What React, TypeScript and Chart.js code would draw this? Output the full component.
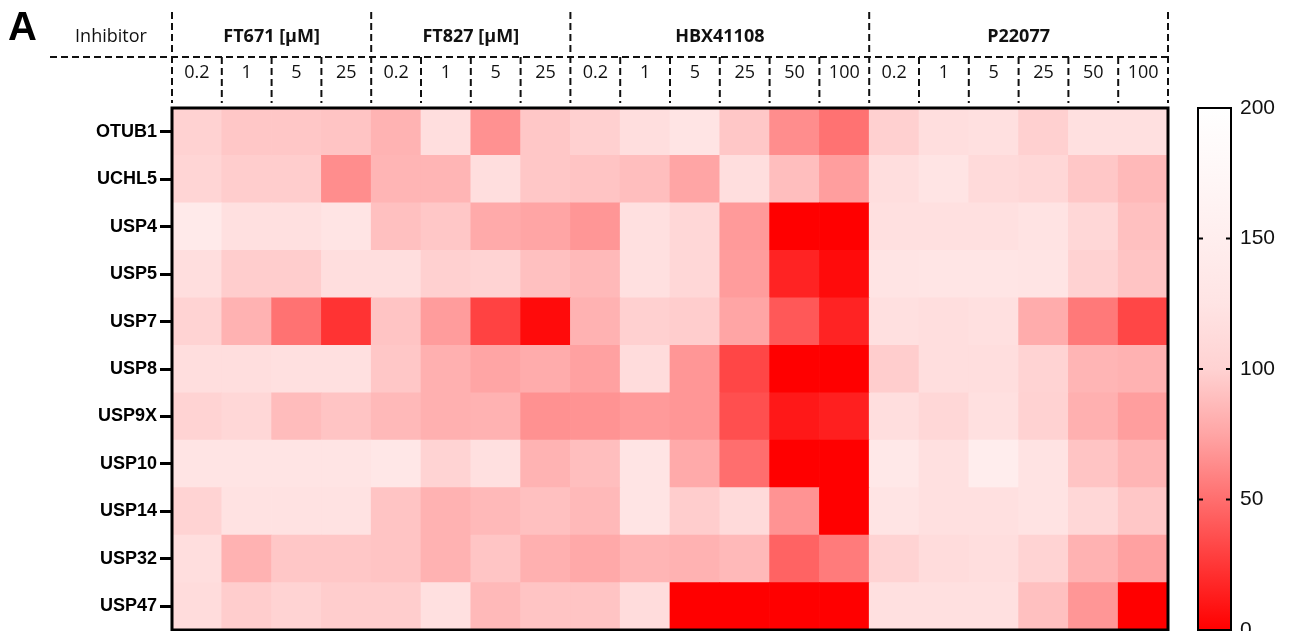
import React, { useEffect, useRef } from "react";
import { Chart, registerables } from "chart.js";

Chart.register(...registerables);

// ---------- data ----------
const inhibitors = ["FT671 [µM]", "FT827 [µM]", "HBX41108", "P22077"];
const ft671Conc = ["0.2", "1", "5", "25"];
const ft827Conc = ["0.2", "1", "5", "25"];
const hbxConc = ["0.2", "1", "5", "25", "50", "100"];
const p22077Conc = ["0.2", "1", "5", "25", "50", "100"];
const concGroups = [ft671Conc, ft827Conc, hbxConc, p22077Conc];

const rowLabels = ["OTUB1", "UCHL5", "USP4", "USP5", "USP7", "USP8", "USP9X", "USP10", "USP14", "USP32", "USP47"];

const OTUB1 = [100, 94, 94, 92, 83, 117, 66, 94, 99, 117, 125, 94, 64, 52, 99, 117, 120, 99, 120, 120];
const UCHL5 = [104, 97, 97, 64, 84, 84, 117, 94, 92, 89, 75, 117, 89, 72, 117, 125, 111, 107, 94, 86];
const USP4 = [140, 120, 120, 125, 90, 94, 78, 75, 68, 120, 107, 70, 0, 0, 120, 120, 120, 123, 107, 90];
const USP5 = [117, 97, 97, 117, 117, 99, 102, 90, 86, 120, 107, 71, 16, 5, 125, 128, 128, 125, 100, 92];
const USP7 = [102, 82, 52, 23, 92, 71, 30, 5, 82, 99, 97, 75, 40, 16, 120, 117, 120, 79, 55, 32];
const USP8 = [117, 117, 120, 120, 94, 81, 75, 79, 73, 114, 68, 32, 0, 0, 97, 117, 117, 102, 84, 82];
const USP9X = [102, 107, 88, 92, 86, 81, 82, 66, 67, 70, 68, 36, 11, 14, 117, 107, 120, 100, 81, 72];
const USP10 = [125, 125, 125, 125, 133, 102, 120, 83, 89, 125, 78, 50, 0, 0, 135, 120, 148, 123, 92, 84];
const USP14 = [102, 122, 122, 122, 92, 82, 86, 90, 86, 125, 97, 111, 67, 0, 125, 120, 120, 123, 107, 94];
const USP32 = [117, 82, 94, 94, 92, 82, 93, 81, 77, 84, 82, 86, 45, 56, 102, 114, 117, 102, 82, 73];
const USP47 = [114, 97, 102, 97, 97, 120, 86, 92, 92, 114, 0, 0, 0, 0, 120, 120, 120, 90, 68, 0];
const rowValues = [OTUB1, UCHL5, USP4, USP5, USP7, USP8, USP9X, USP10, USP14, USP32, USP47];

const colorbarTicks = [0, 50, 100, 150, 200];
const colorbarMin = 0;
const colorbarMax = 200;
// colour map: value -> green/blue channel (red stays 255)
const cmapValues = [0, 25, 50, 75, 100, 125, 150, 175, 200];
const cmapLevels = [0, 55, 110, 165, 210, 228, 238, 247, 255];

function colorFor(v: number): string {
  const val = Math.max(colorbarMin, Math.min(colorbarMax, v));
  let g = 255;
  for (let i = 0; i < cmapValues.length - 1; i++) {
    if (val >= cmapValues[i] && val <= cmapValues[i + 1]) {
      const t = (val - cmapValues[i]) / (cmapValues[i + 1] - cmapValues[i]);
      g = cmapLevels[i] + t * (cmapLevels[i + 1] - cmapLevels[i]);
      break;
    }
  }
  g = Math.round(g);
  return `rgb(255,${g},${g})`;
}

const columnLabels: string[] = [];
concGroups.forEach((g, gi) => g.forEach((c) => columnLabels.push(`${inhibitors[gi]} ${c}`)));

const SANS = "'Liberation Sans', Arial, sans-serif";
const HEAD = "'Open Sans', 'Liberation Sans', sans-serif";

const decorPlugin = {
  id: "heatDecor",
  afterDraw(chart: any) {
    const ctx = chart.ctx as CanvasRenderingContext2D;
    const ca = chart.chartArea;
    const xs = chart.scales.x;
    const cbs = chart.scales.cb;
    const nCols = columnLabels.length;
    const cw = xs.getPixelForValue(1) - xs.getPixelForValue(0);
    const edge = (i: number) => xs.getPixelForValue(i) - cw / 2;

    ctx.save();
    // heatmap frame
    ctx.strokeStyle = "#000";
    ctx.lineWidth = 3;
    ctx.strokeRect(ca.left, ca.top, ca.right - ca.left, ca.bottom - ca.top);

    // header dashed lines
    const yTop = 4;
    const yMid = 49;
    const yBot = 95;
    ctx.strokeStyle = "#111";
    ctx.lineWidth = 2;
    ctx.setLineDash([7, 4]);
    const line = (x1: number, y1: number, x2: number, y2: number) => {
      ctx.beginPath();
      ctx.moveTo(x1, y1);
      ctx.lineTo(x2, y2);
      ctx.stroke();
    };
    line(42, yMid, ca.right + 1, yMid);
    let col = 0;
    ctx.fillStyle = "#111";
    ctx.textBaseline = "middle";
    ctx.textAlign = "center";
    concGroups.forEach((g) => {
      const s = col;
      const e = col + g.length;
      line(edge(s), yTop, edge(s), yBot);
      for (let c = s + 1; c < e; c++) line(edge(c), yMid, edge(c), yBot);
      col = e;
    });
    line(edge(nCols), yTop, edge(nCols), yBot);
    ctx.setLineDash([]);

    // header texts
    col = 0;
    concGroups.forEach((g, gi) => {
      const s = col;
      const e = col + g.length;
      ctx.font = `bold 18px ${HEAD}`;
      ctx.fillText(inhibitors[gi], (edge(s) + edge(e)) / 2, 29);
      ctx.font = `18px ${HEAD}`;
      g.forEach((c, k) => {
        ctx.fillText(c, xs.getPixelForValue(s + k), 65);
      });
      col = e;
    });
    ctx.font = `18px ${HEAD}`;
    ctx.fillText("Inhibitor", 103, 29);

    // panel letter
    ctx.textAlign = "left";
    ctx.textBaseline = "alphabetic";
    ctx.fillStyle = "#000";
    ctx.font = `bold 40px ${SANS}`;
    ctx.fillText("A", 0, 32);

    // colour bar
    const bx = 1190;
    const bw = 33;
    const yTopBar = cbs.getPixelForValue(colorbarMax);
    const yBotBar = cbs.getPixelForValue(colorbarMin);
    const grad = ctx.createLinearGradient(0, yBotBar, 0, yTopBar);
    cmapValues.forEach((v) => {
      grad.addColorStop((v - colorbarMin) / (colorbarMax - colorbarMin), colorFor(v));
    });
    ctx.fillStyle = grad;
    ctx.fillRect(bx, yTopBar, bw, yBotBar - yTopBar);
    ctx.strokeStyle = "#000";
    ctx.lineWidth = 2;
    ctx.strokeRect(bx, yTopBar, bw, yBotBar - yTopBar);
    colorbarTicks.forEach((t) => {
      if (t === colorbarMin || t === colorbarMax) return;
      const y = cbs.getPixelForValue(t);
      line(bx, y, bx + 5, y);
      line(bx + bw - 5, y, bx + bw, y);
    });
    ctx.restore();
  },
};

export default function App() {
  const ref = useRef<HTMLCanvasElement | null>(null);

  useEffect(() => {
    if (!ref.current) return;
    const n = rowLabels.length;
    const datasets = rowLabels
      .map((name, r) => ({
        label: name,
        data: rowValues[r].map(() => 1),
        backgroundColor: rowValues[r].map((v) => colorFor(v)),
        borderWidth: 0,
        barPercentage: 1,
        categoryPercentage: 1,
        stack: "heat",
      }))
      .reverse();

    const chart = new Chart(ref.current, {
      type: "bar",
      data: { labels: columnLabels, datasets },
      options: {
        responsive: false,
        animation: false,
        devicePixelRatio: 1,
        layout: { padding: { top: 100, bottom: 9, left: 0, right: 0 } },
        plugins: { legend: { display: false }, tooltip: { enabled: false } },
        scales: {
          x: { type: "category", stacked: true, display: false },
          y: {
            type: "linear",
            stacked: true,
            min: 0,
            max: n,
            position: "left",
            afterBuildTicks: (scale: any) => {
              scale.ticks = rowLabels.map((_, i) => ({ value: i + 0.5 }));
            },
            afterFit: (scale: any) => {
              scale.width = 164;
              scale.paddingTop = 0;
              scale.paddingBottom = 0;
            },
            ticks: {
              autoSkip: false,
              padding: 3,
              color: "#000",
              font: { family: SANS, size: 18, weight: "bold" },
              callback: (_v: any, index: number) => rowLabels[n - 1 - index],
            },
            grid: {
              display: true,
              drawOnChartArea: false,
              drawTicks: true,
              tickLength: 12,
              tickWidth: 3,
              tickColor: "#000",
            },
            border: { display: false },
          },
          cb: {
            type: "linear",
            position: "right",
            min: colorbarMin,
            max: colorbarMax,
            afterBuildTicks: (scale: any) => {
              scale.ticks = colorbarTicks.map((v) => ({ value: v }));
            },
            afterFit: (scale: any) => {
              scale.width = 114;
              scale.paddingTop = 0;
              scale.paddingBottom = 0;
            },
            ticks: {
              autoSkip: false,
              padding: 72,
              color: "#111",
              font: { family: SANS, size: 21 },
            },
            grid: { display: false, drawTicks: false },
            border: { display: false },
          },
        },
      },
      plugins: [decorPlugin],
    } as any);

    return () => chart.destroy();
  }, []);

  return (
    <div style={{ width: 1274, height: 631, marginBottom: -8 }}>
      <canvas ref={ref} width={1274} height={631} style={{ display: "block" }} />
    </div>
  );
}
